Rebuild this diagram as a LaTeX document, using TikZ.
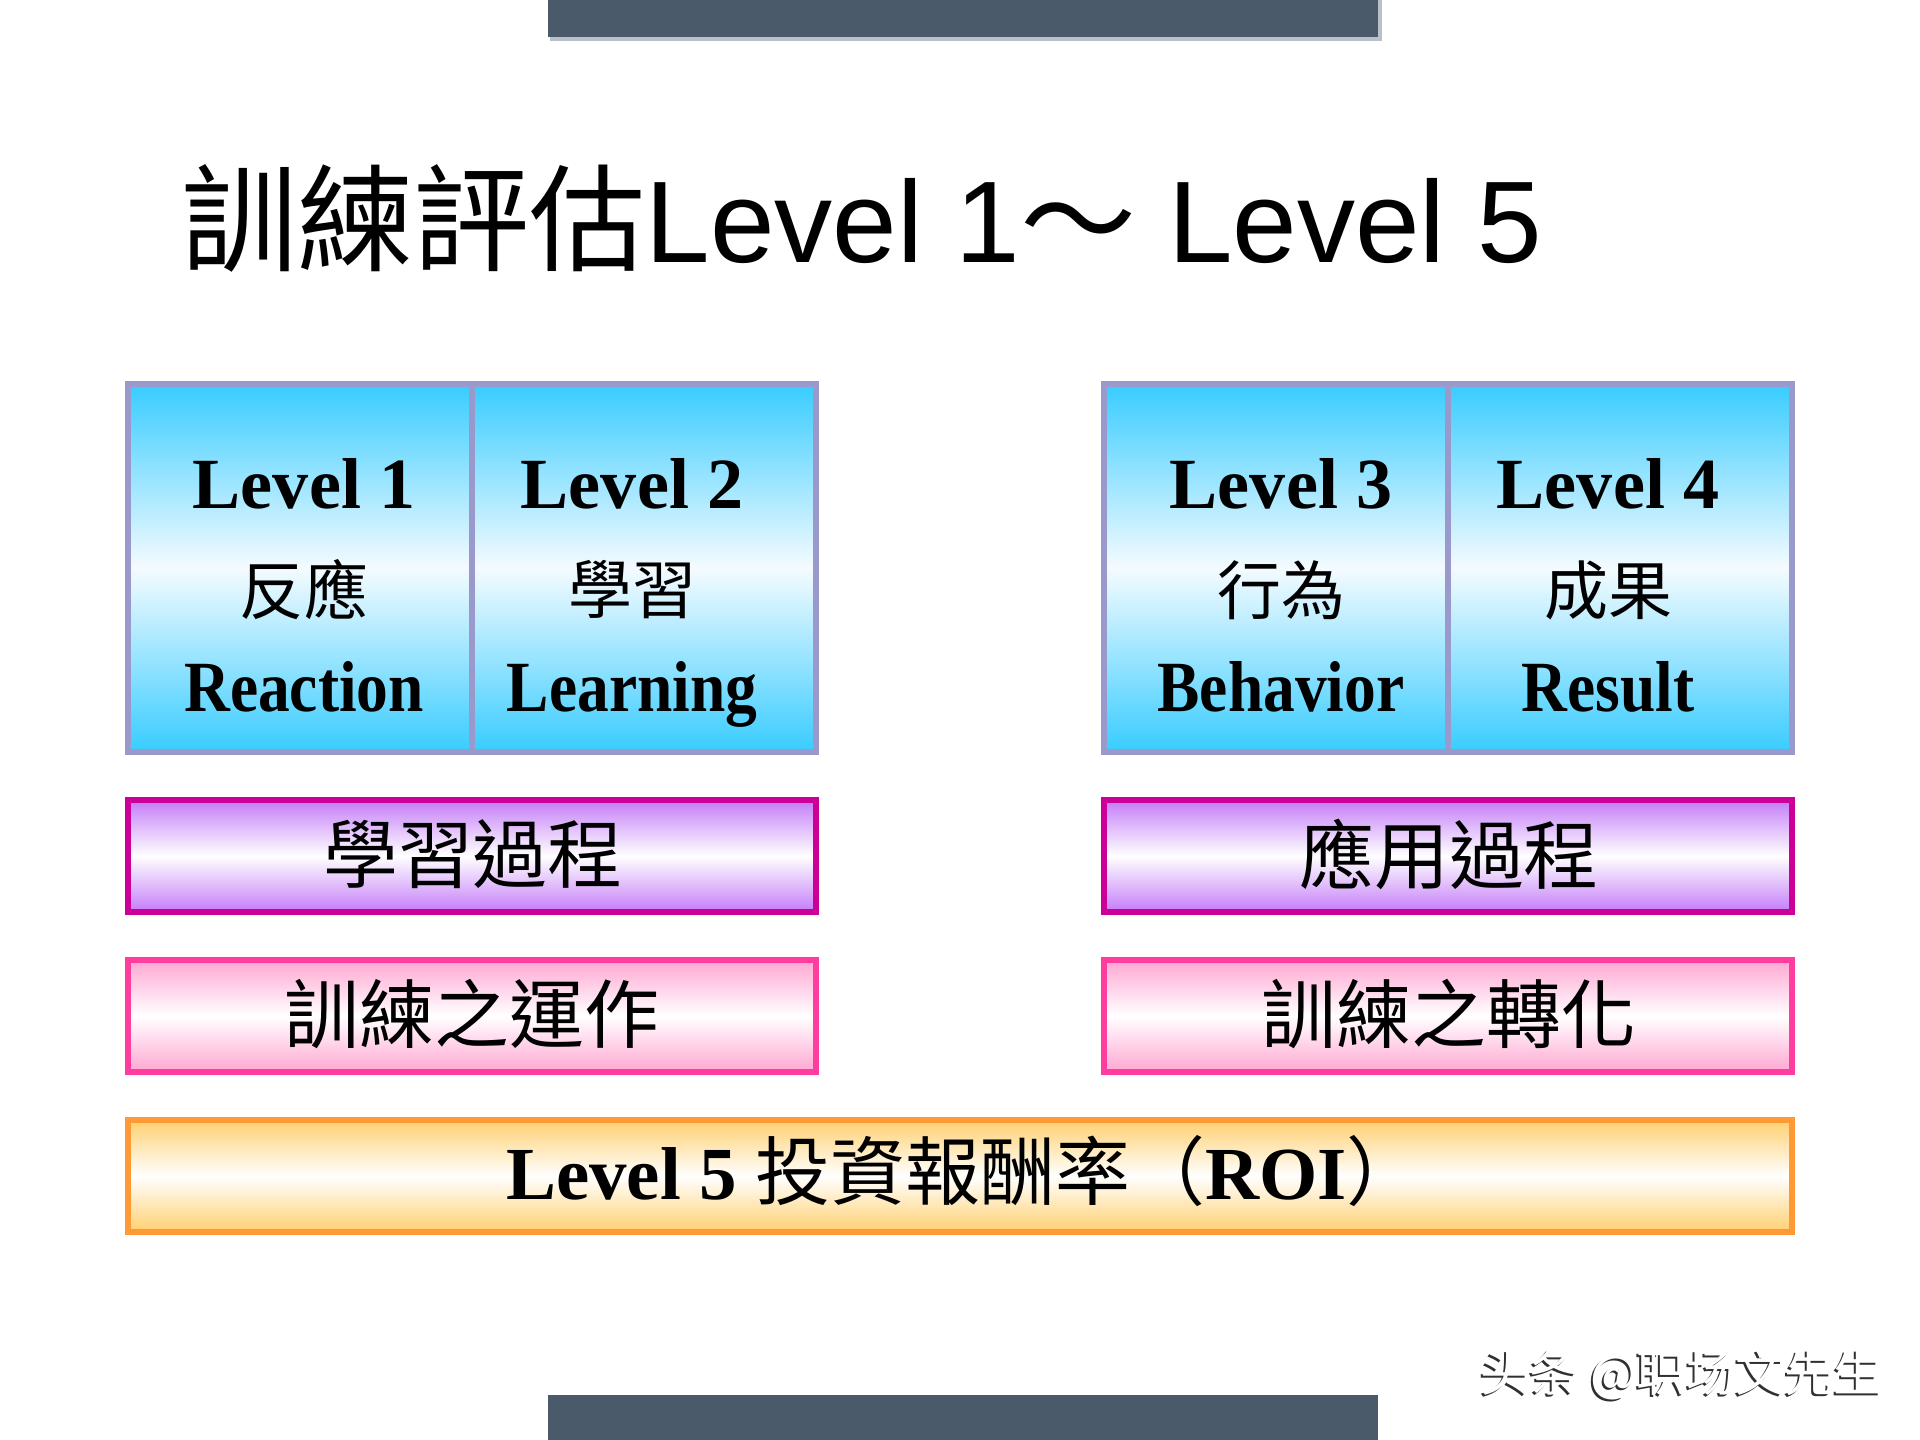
\documentclass[tikz,border=0pt]{standalone}
\usepackage{fontspec}
\setmainfont{Liberation Serif}
\newfontfamily\condserif[FakeStretch=0.88]{Liberation Serif}
\newfontfamily\cjk{Noto Sans CJK TC}
\newfontfamily\cjksc{Noto Sans CJK SC}
\newfontfamily\arial{Liberation Sans}
\definecolor{barslate}{HTML}{4B5A6A}
\definecolor{barshadow}{HTML}{B8C0C8}
\definecolor{cellborder}{HTML}{9999CC}
\definecolor{cyanT}{HTML}{38CCFF}
\definecolor{cyanM}{HTML}{F4FBFF}
\definecolor{magborder}{HTML}{CC0099}
\definecolor{purpT}{HTML}{C47CF8}
\definecolor{pinkborder}{HTML}{FF3D9E}
\definecolor{pinkT}{HTML}{FFA6D2}
\definecolor{orangeborder}{HTML}{FF9933}
\definecolor{orangeT}{HTML}{FFD070}
\definecolor{wmshadow}{HTML}{303030}
\tikzset{
  cellbox/.style={draw=cellborder, line width=0.06cm, top color=cyanT, bottom color=cyanT, middle color=cyanM,
    inner sep=0pt, outer sep=0pt, minimum width=3.44cm, minimum height=3.68cm},
  bandbox/.style={line width=0.06cm, inner sep=0pt, outer sep=0pt, minimum width=6.88cm, minimum height=1.12cm},
  purpband/.style={bandbox, draw=magborder, top color=purpT, bottom color=purpT, middle color=white},
  pinkband/.style={bandbox, draw=pinkborder, top color=pinkT, bottom color=pinkT, middle color=white},
  orangeband/.style={bandbox, draw=orangeborder, top color=orangeT, bottom color=orangeT, middle color=white, minimum width=16.64cm},
  lattext/.style={anchor=base, inner sep=0pt, font=\fontsize{20.5}{20.5}\selectfont\bfseries},
  engtext/.style={anchor=base, inner sep=0pt, font=\fontsize{20.5}{20.5}\selectfont\condserif\bfseries},
  cjktop/.style={anchor=center, inner sep=0pt, font=\fontsize{18.2}{18.2}\selectfont\cjk},
  cjkband/.style={anchor=center, inner sep=0pt, font=\fontsize{21.3}{21.3}\selectfont\cjk},
}
\begin{document}
\begin{tikzpicture}[x=0.01cm,y=-0.01cm]
\useasboundingbox (0,0) rectangle (1920,1440);
\fill[white] (0,0) rectangle (1920,1440);
% top and bottom bars
\fill[barshadow] (550,0) rectangle (1382,41);
\fill[barslate] (548,0) rectangle (1378,37);
\fill[barslate] (548,1395) rectangle (1378,1440);
% title
\node[anchor=base west, inner sep=0pt, font=\fontsize{33}{33}\selectfont] (title) at (181,263)
  {{\cjk 訓練評估}{\arial Level 1}{\cjk ～}{\arial\ Level 5}};
% top level cells
\node[cellbox] (c1) at (300,568) {};
\node[cellbox] (c2) at (644,568) {};
\node[cellbox] (c3) at (1276,568) {};
\node[cellbox] (c4) at (1620,568) {};
\node[lattext] (l1) at (304,509) {Level 1};
\node[cjktop]  (k1) at (304,590) {反應};
\node[engtext] (e1) at (304,712) {Reaction};
\node[lattext] (l2) at (632,509) {Level 2};
\node[cjktop]  (k2) at (632,590) {學習};
\node[engtext] (e2) at (632,712) {Learning};
\node[lattext] (l3) at (1281,509) {Level 3};
\node[cjktop]  (k3) at (1281,590) {行為};
\node[engtext] (e3) at (1281,712) {Behavior};
\node[lattext] (l4) at (1608,509) {Level 4};
\node[cjktop]  (k4) at (1608,590) {成果};
\node[engtext] (e4) at (1608,712) {Result};
% process bands
\node[purpband] (p1) at (472,856) {};
\node[purpband] (p2) at (1448,856) {};
\node[cjkband] (pt1) at (473,854) {學習過程};
\node[cjkband] (pt2) at (1449,854) {應用過程};
\node[pinkband] (q1) at (472,1016) {};
\node[pinkband] (q2) at (1448,1016) {};
\node[cjkband] (qt1) at (472,1014) {訓練之運作};
\node[cjkband] (qt2) at (1449,1014) {訓練之轉化};
% level 5
\node[orangeband] (r5) at (960,1176) {};
\node[anchor=base, inner sep=0pt, font=\fontsize{21.3}{21.3}\selectfont\bfseries] (rt) at (964,1200)
  {Level 5 {\cjk\mdseries 投資報酬率（}ROI{\cjk\mdseries ）}};
% watermark
\node[anchor=west, inner sep=0pt, text=wmshadow, font=\fontsize{14}{14}\selectfont\cjksc] (wms) at (1478,1377) {头条 @职场文先生};
\node[anchor=west, inner sep=0pt, text=white, font=\fontsize{14}{14}\selectfont\cjksc] (wm) at (1480,1375) {头条 @职场文先生};
\end{tikzpicture}
\end{document}
